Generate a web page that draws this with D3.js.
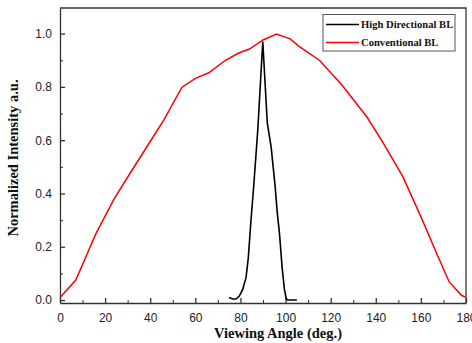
<!DOCTYPE html>
<html>
<head>
<meta charset="utf-8">
<script src="https://cdn.jsdelivr.net/npm/d3@7"></script>
<style>
  body { margin: 0; background: #fff; }
  .axis text { font-family: "Liberation Sans", Arial, sans-serif; font-size: 12px; fill: #222; }
  .axis path, .axis line { stroke: #333; }
  .title { font-family: "Liberation Serif", "Times New Roman", serif; font-weight: bold; font-size: 14.5px; fill: #111; }
  .legend text { font-family: "Liberation Serif", "Times New Roman", serif; font-weight: bold; font-size: 10.6px; fill: #111; }
</style>
</head>
<body>
<div class="chart"></div>
<script>
// values: [angle deg, normalized intensity]
var conventionalBL = [
  [0, 0.01], [7, 0.075], [16, 0.25], [24, 0.38], [31, 0.475], [40, 0.595],
  [46, 0.675], [54, 0.798], [60, 0.832], [66, 0.853], [73, 0.898], [79, 0.926],
  [84, 0.942], [90, 0.976], [96, 0.998], [102, 0.98], [106, 0.952], [115, 0.90],
  [125, 0.807], [136, 0.688], [143, 0.594], [152, 0.463], [160, 0.313],
  [167, 0.175], [172.5, 0.069], [178, 0.018], [180, 0.01]
];
var highDirectionalBL = [
  [75, 0.01], [76.5, 0.004], [78, 0.004], [79.5, 0.015], [81, 0.04], [82.5, 0.085],
  [83.5, 0.16], [84.5, 0.28], [85.9, 0.43], [87.7, 0.64], [89.9, 0.97], [91.9, 0.665],
  [93.6, 0.575], [95.4, 0.425], [96.3, 0.33], [97.3, 0.25], [98.5, 0.12], [99.5, 0.04],
  [100.3, 0.005], [101, 0], [105, 0]
];
var xTicks = [0, 20, 40, 60, 80, 100, 120, 140, 160, 180];
var xMinor = [10, 30, 50, 70, 90, 110, 130, 150, 170];
var yTicks = [0, 0.2, 0.4, 0.6, 0.8, 1.0];
var yMinor = [0.1, 0.3, 0.5, 0.7, 0.9];
var seriesNames = ["High Directional BL", "Conventional BL"];
var seriesColors = ["#000000", "#ff0000"];

var width = 472, height = 343;
var margin = {top: 8, right: 6, bottom: 40, left: 60};
var w = width - margin.left - margin.right,
    h = height - margin.top - margin.bottom;

var svg = d3.select(".chart").append("svg")
    .attr("width", width).attr("height", height)
  .append("g")
    .attr("transform", "translate(" + margin.left + "," + margin.top + ")");

var x = d3.scaleLinear().domain([0, 180]).range([0, w]);
var y = d3.scaleLinear().domain([-0.011, 1.096]).range([h, 0]);

// minor ticks
svg.append("g").attr("class", "axis")
    .attr("transform", "translate(0," + h + ")")
    .call(d3.axisBottom(x).tickValues(xMinor).tickSize(-3).tickFormat(""))
    .select(".domain").remove();
svg.append("g").attr("class", "axis")
    .call(d3.axisLeft(y).tickValues(yMinor).tickSize(-3).tickFormat(""))
    .select(".domain").remove();

// major axes
svg.append("g").attr("class", "axis")
    .attr("transform", "translate(0," + h + ")")
    .call(d3.axisBottom(x).tickValues(xTicks).tickSizeInner(-5).tickSizeOuter(0).tickPadding(10))
    .selectAll("path, line").attr("stroke-width", 1.3);
svg.append("g").attr("class", "axis")
    .call(d3.axisLeft(y).tickValues(yTicks).tickSizeInner(-5).tickSizeOuter(0).tickPadding(8)
      .tickFormat(d3.format(".1f")))
    .selectAll("path, line").attr("stroke-width", 1.3);

// top and right frame
svg.append("path")
    .attr("d", "M0,0H" + w + "V" + h)
    .attr("fill", "none").attr("stroke", "#333").attr("stroke-width", 1.3);

var line = d3.line().x(d => x(d[0])).y(d => y(d[1]));

svg.append("path").datum(conventionalBL)
    .attr("d", line).attr("fill", "none")
    .attr("stroke", seriesColors[1]).attr("stroke-width", 1.5);
svg.append("path").datum(highDirectionalBL)
    .attr("d", line).attr("fill", "none")
    .attr("stroke", seriesColors[0]).attr("stroke-width", 1.6);

// axis titles
svg.append("text").attr("class", "title")
    .attr("x", 218).attr("y", h + 35)
    .attr("text-anchor", "middle")
    .text("Viewing Angle (deg.)");
svg.append("text").attr("class", "title")
    .attr("transform", "translate(-42," + 150 + ")rotate(-90)")
    .attr("text-anchor", "middle")
    .text("Normalized Intensity a.u.");

// legend
var legend = svg.append("g").attr("class", "legend")
    .attr("transform", "translate(263,6.5)");
legend.append("rect")
    .attr("width", 132).attr("height", 36.5)
    .attr("fill", "#fff").attr("stroke", "#555").attr("stroke-width", 1);
seriesNames.forEach(function(name, i) {
  var ly = 10 + i * 18;
  legend.append("line")
      .attr("x1", 3).attr("x2", 36).attr("y1", ly).attr("y2", ly)
      .attr("stroke", seriesColors[i]).attr("stroke-width", 1.6);
  legend.append("text")
      .attr("x", 38).attr("y", ly + 3.5)
      .text(name);
});
</script>
</body>
</html>
